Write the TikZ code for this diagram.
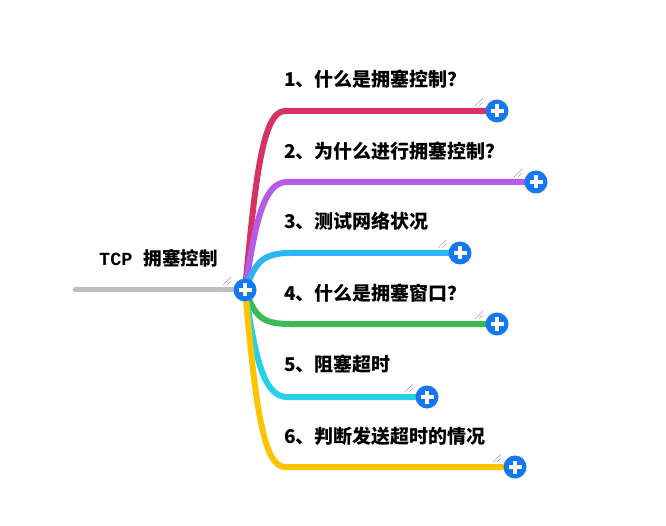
\documentclass[tikz,border=0pt]{standalone}
\usepackage{fontspec}
\newfontfamily\cjk{Noto Sans CJK SC}
\newfontfamily\monob{Liberation Mono}
\usepackage{tikz}
\usetikzlibrary{positioning}

\definecolor{hubblue}{HTML}{1478F0}
\definecolor{rootgray}{HTML}{BEBEBE}
\definecolor{cred}{HTML}{D63364}
\definecolor{cpurple}{HTML}{B55BE6}
\definecolor{clblue}{HTML}{2BB5F5}
\definecolor{cgreen}{HTML}{3CBA54}
\definecolor{ccyan}{HTML}{26D0E6}
\definecolor{cyellow}{HTML}{FFC400}

\begin{document}
\begin{tikzpicture}[x=1pt, y=-1pt,
    branch/.style={line width=6pt, line cap=round},
    plus/.style={circle, fill=hubblue, minimum size=23pt, inner sep=0pt,
      path picture={
        \draw[white, line width=3.6pt]
          ([xshift=-6.5pt]path picture bounding box.center) -- ([xshift=6.5pt]path picture bounding box.center)
          ([yshift=-6.5pt]path picture bounding box.center) -- ([yshift=6.5pt]path picture bounding box.center);}},
    grip/.style={gray!70, line width=0.6pt},
    lbl/.style={font=\cjk\bfseries\fontsize{19}{22}\selectfont, inner sep=0pt, anchor=south west}]
    \useasboundingbox (0,0) rectangle (666,526);

    % Punkte
    \coordinate (tail) at (75,290);
    \coordinate (h) at (245,290);
    \coordinate (p1) at (497,111);
    \coordinate (p2) at (536,182);
    \coordinate (p3) at (460,253);
    \coordinate (p4) at (497,324);
    \coordinate (p5) at (427,397);
    \coordinate (p6) at (515,467);

    % Wurzel
    \draw[rootgray, line width=5pt, line cap=round] (tail) -- (h);
    \node[font=\fontsize{18.5}{21}\selectfont, anchor=west, inner sep=0pt] (root) at (99,258)
      {{\monob\bfseries TCP }{\cjk\bfseries 拥塞控制}};

    % Zweige
    \draw[branch, cred] (h) .. controls (255,183) and (262,111) .. (285,111) -- (p1);
    \draw[branch, cpurple] (h) .. controls (255,225) and (263,182) .. (287,182) -- (p2);
    \draw[branch, clblue] (h) .. controls (255,265) and (260,253) .. (290,253) -- (p3);
    \draw[branch, cgreen] (h) .. controls (255,315) and (260,324) .. (290,324) -- (p4);
    \draw[branch, ccyan] (h) .. controls (255,355) and (263,397) .. (287,397) -- (p5);
    \draw[branch, cyellow] (h) .. controls (255,397) and (262,467) .. (285,467) -- (p6);

    % Knoepfe
    \node[plus] (hub) at (h) {};
    \node[plus] (b1) at (p1) {};
    \node[plus] (b2) at (p2) {};
    \node[plus] (b3) at (p3) {};
    \node[plus] (b4) at (p4) {};
    \node[plus] (b5) at (p5) {};
    \node[plus] (b6) at (p6) {};
    \foreach \n in {hub,b1,b2,b3,b4,b5,b6} {
      \draw[grip] ([shift={(-22,-5)}]\n.center) -- +(8,-8);
      \draw[grip] ([shift={(-18,-5)}]\n.center) -- +(4,-4);
    }

    % Beschriftungen
    \node[lbl] (t1) at (284,89) {1、什么是拥塞控制？};
    \node[lbl] (t2) at (284,161) {2、为什么进行拥塞控制？};
    \node[lbl] (t3) at (284,231) {3、测试网络状况};
    \node[lbl] (t4) at (284,303) {4、什么是拥塞窗口？};
    \node[lbl] (t5) at (284,373) {5、阻塞超时};
    \node[lbl] (t6) at (284,446) {6、判断发送超时的情况};
\end{tikzpicture}
\end{document}
